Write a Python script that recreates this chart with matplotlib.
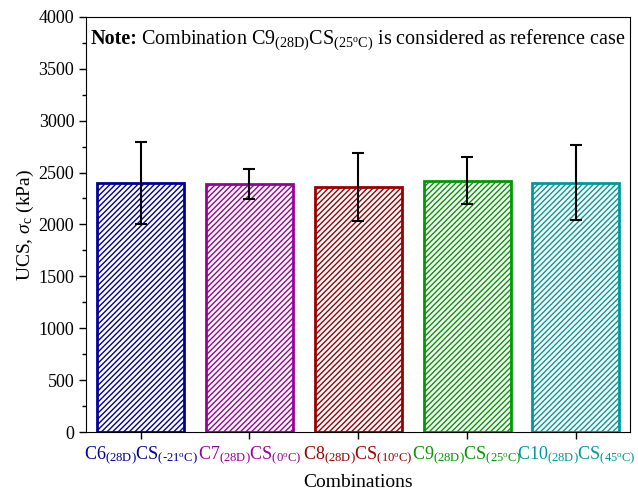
import numpy as np
import matplotlib
matplotlib.use('Agg')
import matplotlib.pyplot as plt
from matplotlib.ticker import MultipleLocator
from matplotlib.transforms import offset_copy

plt.rcParams['font.family'] = ['Liberation Serif', 'DejaVu Serif']
plt.rcParams['mathtext.fontset'] = 'custom'
plt.rcParams['mathtext.rm'] = 'Liberation Serif'
plt.rcParams['mathtext.it'] = 'Liberation Serif:italic'
plt.rcParams['mathtext.bf'] = 'Liberation Serif:bold'
plt.rcParams['hatch.linewidth'] = 1.0

# data
labels = [r'C6$_{\mathrm{(28D)}}$CS$_{\mathrm{(\text{-}21^oC)}}$',
          r'C7$_{\mathrm{(28D)}}$CS$_{\mathrm{(0^oC)}}$',
          r'C8$_{\mathrm{(28D)}}$CS$_{\mathrm{(10^oC)}}$',
          r'C9$_{\mathrm{(28D)}}$CS$_{\mathrm{(25^oC)}}$',
          r'C10$_{\mathrm{(28D)}}$CS$_{\mathrm{(45^oC)}}$']
ucs = [2400, 2392, 2360, 2420, 2400]
err = [392, 145, 325, 225, 362]
colors = ['#000099', '#990099', '#990000', '#009900', '#009999']

fig = plt.figure(figsize=(6.38, 4.96), dpi=100)
ax = fig.add_axes([0.135, 0.129, 0.853, 0.837])

x = np.arange(1, len(ucs) + 1)
for xi, v, e, c in zip(x, ucs, err, colors):
    ax.bar(xi, v, width=0.8, color='white', edgecolor=c, linewidth=2, hatch='//////')
    ax.errorbar(xi, v, yerr=e, fmt='none', ecolor='black', elinewidth=1.5, capsize=4, capthick=1.5)

ax.set_xlim(0.5, 5.5)
ax.set_ylim(0, 4000)
ax.yaxis.set_major_locator(MultipleLocator(500))
ax.yaxis.set_minor_locator(MultipleLocator(250))
ax.set_xticks(x)
ax.set_xticklabels(labels, fontsize=13)
for tl, c in zip(ax.get_xticklabels(), colors):
    tl.set_color(c)
ax.tick_params(axis='y', labelsize=13, direction='out', length=5, width=1)
ax.tick_params(axis='y', which='minor', length=3, width=1)
ax.tick_params(axis='x', direction='out', length=5, width=1, pad=4)
ax.set_ylabel(r'UCS, $\sigma_{\mathrm{c}}$ (kPa)', fontsize=14, labelpad=2)
ax.set_xlabel('Combinations', fontsize=14, labelpad=6)

# note: bold prefix, then the rest placed right after it
t1 = ax.text(0.008, 0.935, 'Note:', transform=ax.transAxes, ha='left', va='baseline',
             fontsize=14.5, fontweight='bold')
fig.canvas.draw()
w = t1.get_window_extent(fig.canvas.get_renderer()).width
ax.text(0.008, 0.935,
        r'Combination C9$_{\mathrm{(28D)}}$CS$_{\mathrm{(25^oC)}}$ is considered as reference case',
        transform=offset_copy(ax.transAxes, fig=fig, x=w + 4, y=0, units='dots'),
        ha='left', va='baseline', fontsize=14.5)

fig.savefig('out.png', dpi=100)
